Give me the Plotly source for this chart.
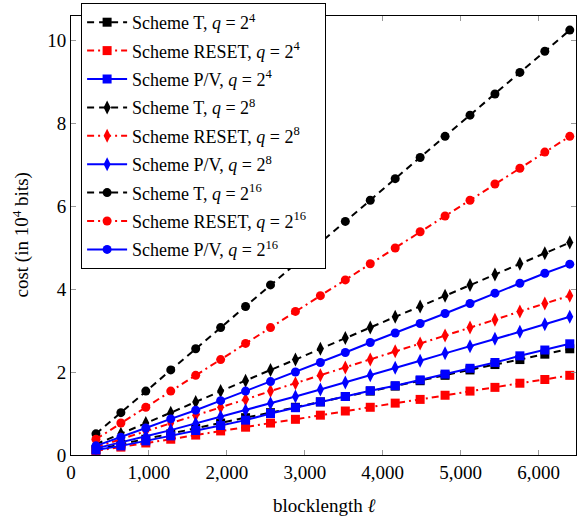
import plotly.graph_objects as go

blocklength = [320, 640, 960, 1280, 1600, 1920, 2240, 2560, 2880, 3200,
               3520, 3840, 4160, 4480, 4800, 5120, 5440, 5760, 6080, 6400]

t_q4 = [0.13, 0.26, 0.38, 0.51, 0.64, 0.77, 0.90, 1.02, 1.15, 1.28,
        1.41, 1.54, 1.66, 1.79, 1.92, 2.05, 2.18, 2.30, 2.43, 2.56]
reset_q4 = [0.10, 0.19, 0.29, 0.38, 0.48, 0.58, 0.67, 0.77, 0.86, 0.96,
            1.06, 1.15, 1.25, 1.34, 1.44, 1.54, 1.63, 1.73, 1.82, 1.92]
pv_q4 = [0.12, 0.22, 0.34, 0.46, 0.59, 0.71, 0.84, 1.00, 1.14, 1.28,
         1.41, 1.55, 1.67, 1.81, 1.95, 2.09, 2.23, 2.39, 2.53, 2.68]

t_q8 = [0.26, 0.51, 0.77, 1.02, 1.28, 1.54, 1.79, 2.05, 2.30, 2.56,
        2.82, 3.07, 3.33, 3.58, 3.84, 4.10, 4.35, 4.61, 4.86, 5.12]
reset_q8 = [0.19, 0.38, 0.58, 0.77, 0.96, 1.15, 1.34, 1.54, 1.73, 1.92,
            2.11, 2.30, 2.50, 2.69, 2.88, 3.07, 3.26, 3.46, 3.65, 3.84]
pv_q8 = [0.16, 0.30, 0.45, 0.60, 0.76, 0.92, 1.08, 1.25, 1.41, 1.58,
         1.75, 1.92, 2.10, 2.27, 2.45, 2.62, 2.80, 2.97, 3.15, 3.33]

t_q16 = [0.51, 1.02, 1.54, 2.05, 2.56, 3.07, 3.58, 4.10, 4.61, 5.12,
         5.63, 6.14, 6.66, 7.17, 7.68, 8.19, 8.70, 9.22, 9.73, 10.24]
reset_q16 = [0.38, 0.77, 1.15, 1.54, 1.92, 2.30, 2.69, 3.07, 3.46, 3.84,
             4.22, 4.61, 4.99, 5.38, 5.76, 6.14, 6.53, 6.91, 7.30, 7.68]
pv_q16 = [0.22, 0.43, 0.65, 0.87, 1.08, 1.31, 1.54, 1.77, 2.00, 2.23,
          2.47, 2.71, 2.94, 3.17, 3.41, 3.65, 3.90, 4.14, 4.38, 4.60]

x_ticks = [0, 1000, 2000, 3000, 4000, 5000, 6000]
y_ticks = [0, 2, 4, 6, 8, 10]

FONT = "Liberation Serif"
DASH_T = "7px,5px"
DASH_R = "7px,4px,2px,4px"
PAD = "\u00a0\u00a0\u00a0"

series = [
    ("Scheme T, <i>q</i> = 2<sup>4</sup>", t_q4, "black", DASH_T, "square", 9),
    ("Scheme RESET, <i>q</i> = 2<sup>4</sup>", reset_q4, "red", DASH_R, "square", 9),
    ("Scheme P/V, <i>q</i> = 2<sup>4</sup>", pv_q4, "blue", "solid", "square", 9),
    ("Scheme T, <i>q</i> = 2<sup>8</sup>", t_q8, "black", DASH_T, "diamond-tall", 10),
    ("Scheme RESET, <i>q</i> = 2<sup>8</sup>", reset_q8, "red", DASH_R, "diamond-tall", 10),
    ("Scheme P/V, <i>q</i> = 2<sup>8</sup>", pv_q8, "blue", "solid", "diamond-tall", 10),
    ("Scheme T, <i>q</i> = 2<sup>16</sup>", t_q16, "black", DASH_T, "circle", 9),
    ("Scheme RESET, <i>q</i> = 2<sup>16</sup>", reset_q16, "red", DASH_R, "circle", 9),
    ("Scheme P/V, <i>q</i> = 2<sup>16</sup>", pv_q16, "blue", "solid", "circle", 9),
]

fig = go.Figure()
for i, (name, ys, color, dash, symbol, size) in enumerate(series):
    fig.add_trace(go.Scatter(
        x=blocklength, y=ys, name=name + PAD, mode="lines+markers",
        legendgroup=f"g{i}",
        line=dict(color=color, width=2, dash=dash),
        marker=dict(symbol=symbol, size=size, color=color, line=dict(width=0)),
    ))

fig.update_layout(
    width=577, height=518,
    margin=dict(l=71, r=1, t=16, b=63, autoexpand=False),
    paper_bgcolor="white", plot_bgcolor="white",
    font=dict(family=FONT, size=18, color="black"),
    showlegend=True,
    legend=dict(
        x=0.02, y=1.0296, xanchor="left", yanchor="top",
        bgcolor="white", bordercolor="black", borderwidth=1,
        font=dict(family=FONT, size=18),
        tracegroupgap=2,
        itemwidth=40,
        maxheight=500,
    ),
    xaxis=dict(
        range=[0, 6480], tickvals=x_ticks, tickformat=",d",
        showgrid=False, zeroline=False, automargin=False,
        showline=True, linecolor="black", linewidth=1, mirror="ticks",
        ticks="inside", ticklen=5, tickcolor="#999999",
        tickfont=dict(size=19),
    ),
    yaxis=dict(
        range=[0, 10.58], tickvals=y_ticks,
        showgrid=False, zeroline=False, automargin=False,
        showline=True, linecolor="black", linewidth=1, mirror="ticks",
        ticks="inside", ticklen=5, tickcolor="#999999",
        tickfont=dict(size=19),
    ),
    annotations=[
        dict(text="blocklength <i>ℓ</i>", xref="paper", yref="paper",
             x=0.5, y=-0.116, xanchor="center", yanchor="middle",
             showarrow=False, font=dict(size=19)),
        dict(text="cost (in 10<sup>4</sup> bits)", xref="paper", yref="paper",
             x=-0.099, y=0.5, xanchor="center", yanchor="middle", textangle=-90,
             showarrow=False, font=dict(size=19)),
    ],
)

fig.write_html("out.html", config={"displayModeBar": False},
               post_script="document.body.style.margin='0';")
